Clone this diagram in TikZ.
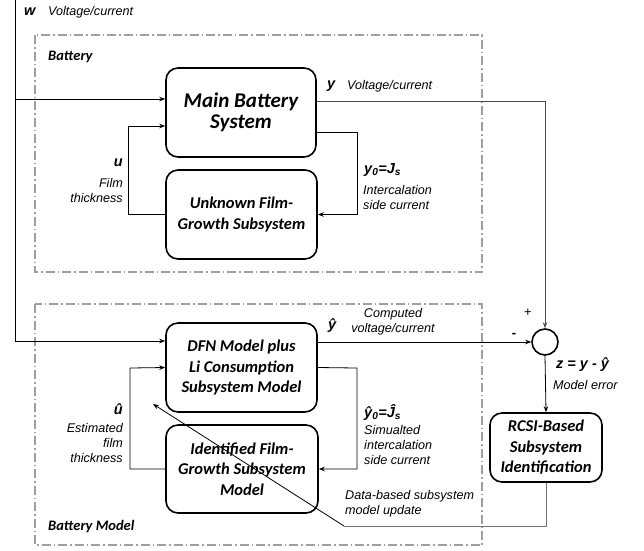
\documentclass[tikz,border=0pt]{standalone}
\usepackage{fontspec}
\setmainfont{Liberation Sans}
\newfontfamily\boxfont{Carlito}
\usetikzlibrary{arrows.meta}
\begin{document}
\begin{tikzpicture}[x=1pt,y=-1pt,
  blk/.style={draw,line width=1.6pt,rounded corners=12pt,align=center,inner sep=0pt,font=\boxfont\bfseries\itshape\fontsize{16.5}{20.5}\selectfont},
  frame/.style={draw=gray!75,line width=1.4pt,dash pattern=on 9pt off 3pt on 1.5pt off 3pt},
  arr/.style={-{Stealth[length=6pt,width=4.5pt]},line width=0.8pt},
  lbl/.style={font=\itshape\fontsize{12.6}{15}\selectfont,inner sep=0pt},
  sym/.style={font=\bfseries\itshape\fontsize{14.5}{16}\selectfont,inner sep=0pt},
  ttl/.style={font=\boxfont\bfseries\itshape\fontsize{14.5}{16}\selectfont,inner sep=0pt,anchor=west},
]
\useasboundingbox (0,0) rectangle (644,550);
\fill[white] (0,0) rectangle (644,550);

% frames
\draw[frame] (35,35) rectangle (482,272);
\draw[frame] (35,304) rectangle (482,545);
\node[ttl] (tbat) at (48,57) {Battery};
\node[ttl] (tbm) at (48,527) {Battery Model};

% blocks
\node[blk,minimum width=150pt,minimum height=89pt,font=\boxfont\bfseries\itshape\fontsize{21}{21.5}\selectfont] (main) at (241,112.5) {Main Battery\\System};
\node[blk,minimum width=151pt,minimum height=89pt] (unk) at (241.5,214.5) {Unknown Film-\\Growth Subsystem};
\node[blk,minimum width=151pt,minimum height=89pt] (dfn) at (241.5,367.5) {DFN Model plus\\Li Consumption\\Subsystem Model};
\node[blk,minimum width=152pt,minimum height=88pt] (ident) at (242,469) {Identified Film-\\Growth Subsystem\\Model};
\node[blk,minimum width=112pt,minimum height=69pt] (rcsi) at (546,447.5) {RCSI-Based\\Subsystem\\Identification};
\node[draw,circle,line width=1.6pt,minimum size=26pt,inner sep=0pt] (sum) at (545,342) {};

% coordinates
\coordinate (wtop) at (15,0);
\coordinate (w1) at (15,99);
\coordinate (w2) at (15,341);
\coordinate (uc) at (128,126);
\coordinate (yc) at (357,132);
\coordinate (yo) at (545,101);
\coordinate (uh) at (130,368);
\coordinate (yh) at (357,368);
\coordinate (up1) at (546,526);
\coordinate (up2) at (344,526);
\coordinate (uptip) at (153,404);

% connectors
\draw[line width=0.8pt] (wtop) -- (w2);
\draw[arr] (w1) -- (w1 -| main.west);
\draw[arr] (w2) -- (w2 -| dfn.west);
\draw[arr] (unk.west) -| (uc) -- (uc -| main.west);
\draw[arr] (yc -| main.east) -- (yc) |- (unk.east);
\draw[arr,draw=black!70] (yo -| main.east) -- (yo) -- (sum.north);
\draw[arr] (dfn.east |- sum.west) -- (sum.west);
\draw[arr] (ident.west) -| (uh) -- (dfn.west);
\draw[arr] (dfn.east) -- (yh) |- (ident.east);
\draw[arr] (sum.south) -- (rcsi.north);
\draw[line width=0.8pt,draw=black!55] (rcsi.south) -- (up1) -- (up2);
\draw[arr] (up2) -- (uptip);

% labels
\node[sym,anchor=west] (lw) at (24,12) {w};
\node[lbl,anchor=west] (lwv) at (48,12) {Voltage/current};
\node[sym,anchor=west] (ly) at (327,86) {y};
\node[lbl,anchor=west] (lyv) at (347,86) {Voltage/current};
\node[sym,anchor=east] (lu) at (123,163) {u};
\node[lbl,anchor=north east,align=right] (luf) at (123,178) {Film\\thickness};
\node[sym,anchor=west] (ly0) at (364,170) {y\textsubscript{0}=J\textsubscript{s}};
\node[lbl,anchor=north west,align=left] (ly0t) at (363,185) {Intercalation\\side current};
\node[sym,anchor=west] (lyh) at (328,326) {ŷ};
\node[lbl,align=center] (lyht) at (393,322) {Computed\\voltage/current};
\node[font=\fontsize{13}{14}\selectfont,inner sep=0pt] (lplus) at (528,313) {+};
\node[font=\bfseries\fontsize{13}{14}\selectfont,inner sep=0pt] (lminus) at (514,335) {-};
\node[sym,anchor=west] (lz) at (556,365) {z = y - ŷ};
\node[lbl,anchor=west] (lze) at (553,385) {Model error};
\node[sym,anchor=east] (luh) at (123,409) {û};
\node[lbl,anchor=north east,align=right] (luht) at (123,423) {Estimated\\film\\thickness};
\node[sym,anchor=west] (lyh0) at (364,412) {ŷ\textsubscript{0}=Ĵ\textsubscript{s}};
\node[lbl,anchor=north west,align=left] (lyh0t) at (364,425) {Simualted\\intercalation\\side current};
\node[lbl,anchor=north west,align=left] (lupd) at (345,490) {Data-based subsystem\\model update};
\end{tikzpicture}
\end{document}
